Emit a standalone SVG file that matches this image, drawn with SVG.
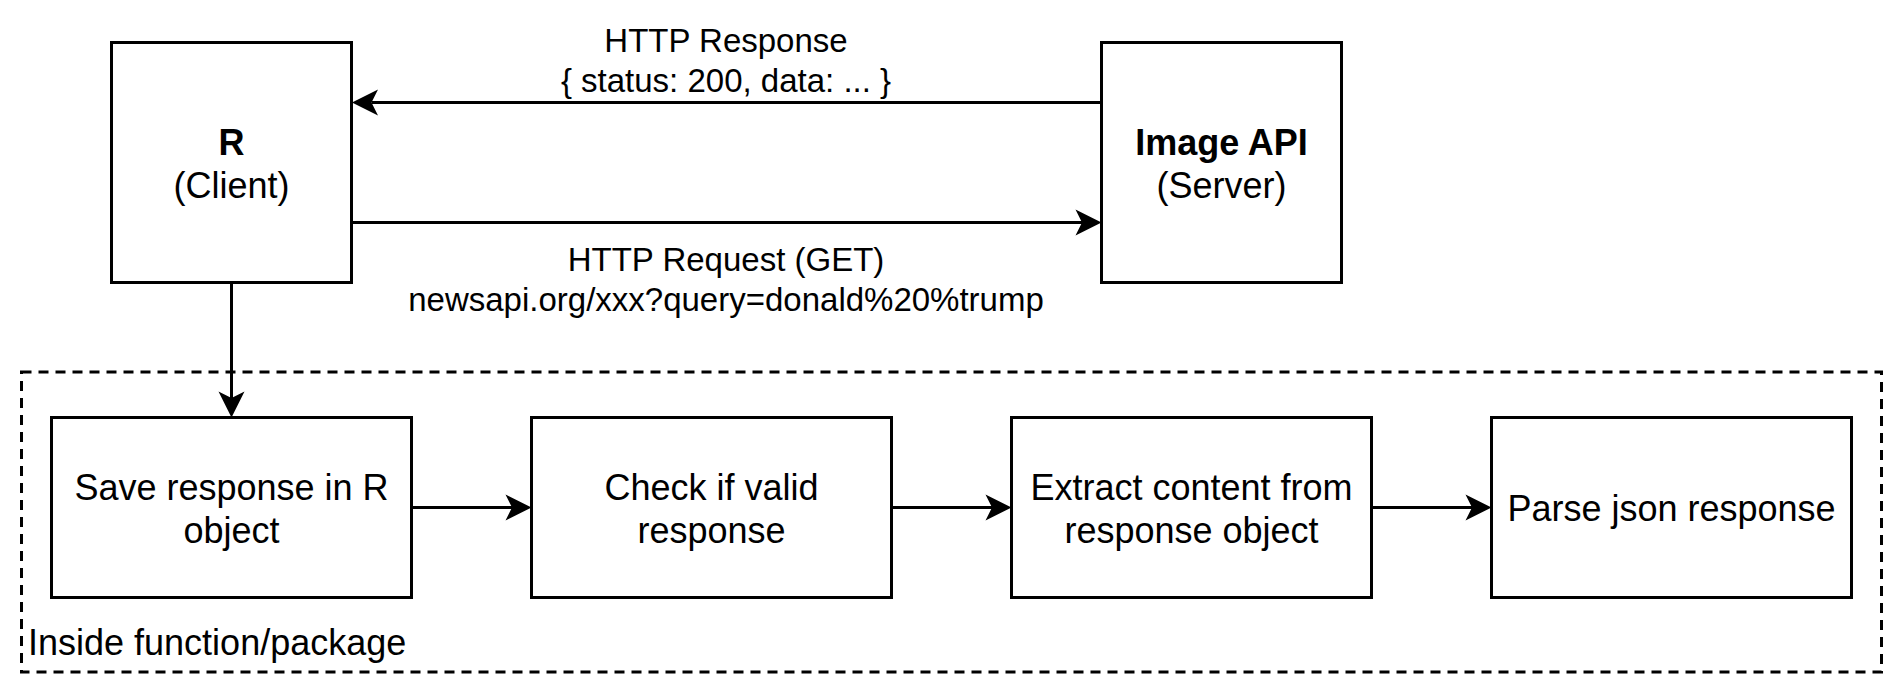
<svg xmlns="http://www.w3.org/2000/svg" width="1903" height="694" viewBox="0 0 1903 694">
  <style>
    .box { fill: #ffffff; stroke: #000000; stroke-width: 3; }
    .grp { fill: none; stroke: #000000; stroke-width: 3; stroke-dasharray: 10 7; }
    .edge { fill: none; stroke: #000000; stroke-width: 3; }
    .t { font-family: "Liberation Sans", Arial, sans-serif; font-size: 36px; fill: #000000; text-anchor: middle; }
    .lbl { font-family: "Liberation Sans", Arial, sans-serif; font-size: 33px; fill: #000000; text-anchor: middle; }
    .b { font-weight: bold; }
  </style>
  <defs>
    <marker id="arrow" markerUnits="userSpaceOnUse" markerWidth="30" markerHeight="30" viewBox="0 0 30 30" refX="6.5" refY="15" orient="auto" overflow="visible">
      <path d="M26,15 L0,2 L6.5,15 L0,28 Z" fill="#000000" stroke="none"/>
    </marker>
  </defs>
  <rect width="1903" height="694" fill="#ffffff"/>

  <g id="group-inside">
    <rect class="grp" x="21.5" y="372" width="1860" height="300"/>
    <text x="28" y="655" class="t" style="text-anchor:start">Inside function/package</text>
  </g>

  <g id="node-r">
    <rect class="box" x="111.5" y="42.5" width="240" height="240"/>
    <text x="231.5" y="155" class="t b">R</text>
    <text x="231.5" y="198" class="t">(Client)</text>
  </g>

  <g id="node-api">
    <rect class="box" x="1101.5" y="42.5" width="240" height="240"/>
    <text x="1221.5" y="155" class="t b">Image API</text>
    <text x="1221.5" y="198" class="t">(Server)</text>
  </g>

  <g id="node-save">
    <rect class="box" x="51.5" y="417.5" width="360" height="180"/>
    <text x="231.5" y="500" class="t">Save response in R</text>
    <text x="231.5" y="543" class="t">object</text>
  </g>

  <g id="node-check">
    <rect class="box" x="531.5" y="417.5" width="360" height="180"/>
    <text x="711.5" y="500" class="t">Check if valid</text>
    <text x="711.5" y="543" class="t">response</text>
  </g>

  <g id="node-extract">
    <rect class="box" x="1011.5" y="417.5" width="360" height="180"/>
    <text x="1191.5" y="500" class="t">Extract content from</text>
    <text x="1191.5" y="543" class="t">response object</text>
  </g>

  <g id="node-parse">
    <rect class="box" x="1491.5" y="417.5" width="360" height="180"/>
    <text x="1671.5" y="521" class="t">Parse json response</text>
  </g>

  <g id="connectors">
    <line class="edge" x1="1101.5" y1="102.5" x2="371.5" y2="102.5" marker-end="url(#arrow)"/>
    <line class="edge" x1="351.5" y1="222.5" x2="1082" y2="222.5" marker-end="url(#arrow)"/>
    <line class="edge" x1="231.5" y1="282.5" x2="231.5" y2="398" marker-end="url(#arrow)"/>
    <line class="edge" x1="411.5" y1="507.5" x2="512" y2="507.5" marker-end="url(#arrow)"/>
    <line class="edge" x1="891.5" y1="507.5" x2="992" y2="507.5" marker-end="url(#arrow)"/>
    <line class="edge" x1="1371.5" y1="507.5" x2="1472" y2="507.5" marker-end="url(#arrow)"/>
    <text x="726" y="52" class="lbl">HTTP Response</text>
    <text x="726" y="92" class="lbl">{ status: 200, data: ... }</text>
    <text x="726" y="271" class="lbl">HTTP Request (GET)</text>
    <text x="726" y="311" class="lbl">newsapi.org/xxx?query=donald%20%trump</text>
  </g>
</svg>
